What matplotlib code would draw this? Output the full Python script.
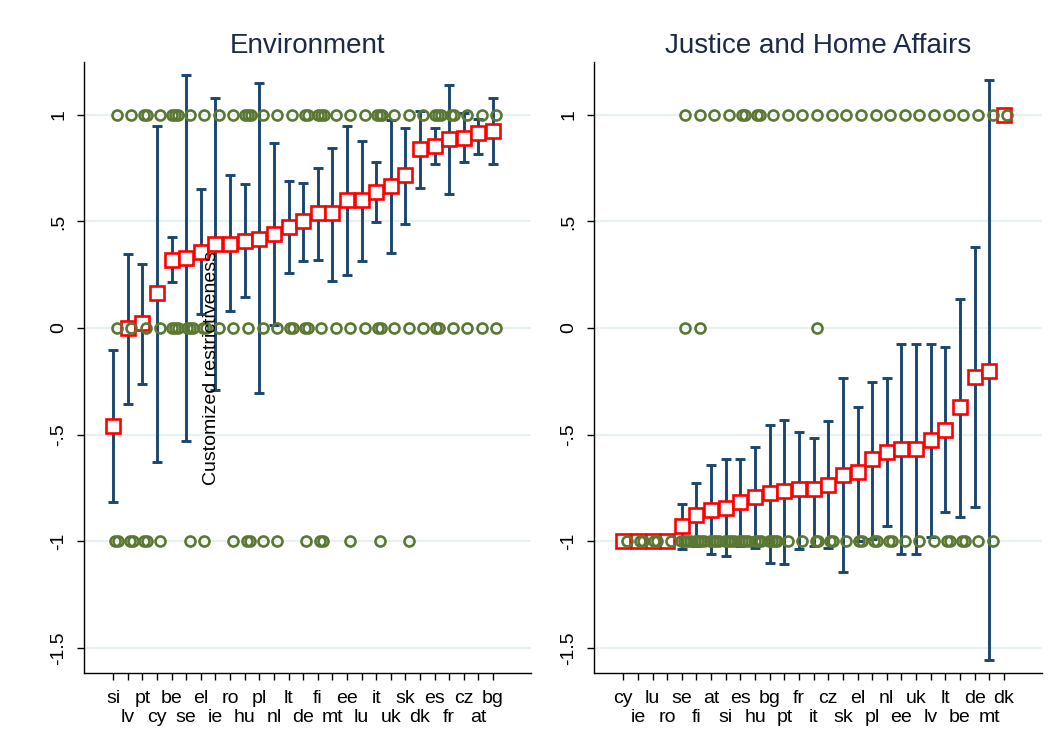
import numpy as np
import matplotlib
matplotlib.use("Agg")
import matplotlib.pyplot as plt

plt.rcParams['font.family'] = ['Liberation Sans', 'DejaVu Sans']

# ---------------- data ----------------
countries_env = ['si', 'lv', 'pt', 'cy', 'be', 'se', 'el', 'ie', 'ro', 'hu', 'pl', 'nl', 'lt', 'de',
                 'fi', 'mt', 'ee', 'lu', 'it', 'uk', 'sk', 'dk', 'es', 'fr', 'cz', 'at', 'bg']
mean_env = [-0.46, 0.00, 0.023, 0.165, 0.32, 0.33, 0.355, 0.393, 0.395, 0.41, 0.42, 0.44, 0.473, 0.50,
            0.54, 0.54, 0.60, 0.60, 0.637, 0.665, 0.716, 0.838, 0.852, 0.885, 0.89, 0.913, 0.923]
lo_env = [-0.815, -0.356, -0.263, -0.63, 0.215, -0.53, 0.065, -0.29, 0.08, 0.147, -0.305, 0.015, 0.26, 0.314,
          0.318, 0.22, 0.248, 0.314, 0.496, 0.351, 0.49, 0.656, 0.768, 0.627, 0.777, 0.815, 0.768]
hi_env = [-0.103, 0.347, 0.30, 0.95, 0.427, 1.185, 0.65, 1.077, 0.716, 0.675, 1.15, 0.867, 0.69, 0.68,
          0.75, 0.843, 0.946, 0.876, 0.777, 0.974, 0.94, 1.016, 0.937, 1.138, 1.007, 0.98, 1.077]
# number of individual observations at -1 / 0 / 1
env_obs_neg = [2, 2, 2, 1, 0, 1, 1, 0, 1, 2, 1, 1, 0, 1, 2, 0, 1, 0, 1, 0, 1, 0, 0, 0, 0, 0, 0]
env_obs_zero = [1, 1, 1, 1, 3, 3, 2, 1, 1, 1, 1, 1, 2, 2, 1, 1, 1, 1, 2, 1, 1, 1, 2, 1, 1, 1, 1]
env_obs_pos = [1, 1, 2, 1, 3, 1, 1, 1, 1, 3, 1, 1, 1, 2, 3, 1, 1, 1, 3, 1, 1, 1, 3, 2, 1, 1, 1]

countries_jha = ['cy', 'ie', 'lu', 'ro', 'se', 'fi', 'at', 'si', 'es', 'hu', 'bg', 'pt', 'fr', 'it',
                 'cz', 'sk', 'el', 'pl', 'nl', 'ee', 'uk', 'lv', 'lt', 'be', 'de', 'mt', 'dk']
mean_jha = [-1.0, -1.0, -1.0, -1.0, -0.93, -0.876, -0.853, -0.842, -0.818, -0.793, -0.775, -0.764, -0.756, -0.756,
            -0.736, -0.69, -0.677, -0.616, -0.581, -0.566, -0.566, -0.526, -0.477, -0.372, -0.228, -0.2, 1.0]
lo_jha = [-1.0, -1.0, -1.0, -1.0, -1.036, -1.02, -1.062, -1.07, -1.023, -1.03, -1.10, -1.106, -1.036, -1.02,
          -1.034, -1.145, -1.0, -0.99, -0.93, -1.06, -1.06, -0.979, -0.862, -0.884, -0.84, -1.555, 1.0]
hi_jha = [-1.0, -1.0, -1.0, -1.0, -0.826, -0.728, -0.643, -0.615, -0.615, -0.557, -0.457, -0.429, -0.488, -0.516,
          -0.437, -0.233, -0.368, -0.252, -0.233, -0.076, -0.076, -0.076, -0.09, 0.136, 0.382, 1.163, 1.0]
jha_obs_neg = [1, 2, 2, 1, 4, 4, 4, 4, 4, 3, 4, 1, 1, 2, 2, 1, 2, 2, 2, 1, 1, 1, 2, 2, 1, 1, 0]
jha_obs_zero = [0, 0, 0, 0, 1, 1, 0, 0, 0, 0, 0, 0, 0, 1, 0, 0, 0, 0, 0, 0, 0, 0, 0, 0, 0, 0, 0]
jha_obs_pos = [0, 0, 0, 0, 1, 1, 1, 1, 2, 2, 1, 1, 1, 1, 1, 1, 1, 1, 1, 1, 1, 1, 1, 1, 1, 1, 1]

obs_levels = [-1, 0, 1]
ytick_vals = [-1.5, -1, -0.5, 0, 0.5, 1]
ytick_labels = ['-1.5', '-1', '-.5', '0', '.5', '1']
titles = ['Environment', 'Justice and Home Affairs']
ylabel = 'Customized restrictiveness'

# ---------------- style ----------------
NAVY = '#1a476f'
RED = '#ff0000'
GREEN = '#5a7833'
GRID = '#e8f0f2'
TITLE_C = '#1c2a4a'

W, H = 1048, 744
fig = plt.figure(figsize=(W / 100, H / 100), dpi=100)
ax_top, ax_bot = 62, 673
ax1 = fig.add_axes([84 / W, (H - ax_bot) / H, (531 - 84) / W, (ax_bot - ax_top) / H])
ax2 = fig.add_axes([594 / W, (H - ax_bot) / H, (1042 - 594) / W, (ax_bot - ax_top) / H])


def draw(ax, countries, mean, lo, hi, obs, title):
    n = len(countries)
    x = np.arange(n)
    mean = np.array(mean)
    lo = np.array(lo)
    hi = np.array(hi)
    ax.errorbar(x, mean, yerr=[mean - lo, hi - mean], fmt='none', ecolor=NAVY,
                elinewidth=2.1, capsize=3.6, capthick=2.1, zorder=2)
    ax.plot(x, mean, ls='none', marker='s', ms=10.5, mfc='white', mec=RED, mew=1.9, zorder=3)
    # individual observations, hollow circles, spread slightly when several
    cx, cy = [], []
    for level, counts in zip(obs_levels, obs):
        for i, c in enumerate(counts):
            for k in range(c):
                cx.append(i + 0.23 + (k - (c - 1) / 2) * 0.2)
                cy.append(level)
    ax.plot(cx, cy, ls='none', marker='o', ms=7.2, mfc='none', mec=GREEN, mew=1.9, zorder=4)

    ax.set_xlim(-2.0, 28.6)
    ax.set_ylim(-1.618, 1.248)
    ax.set_yticks(ytick_vals)
    ax.set_yticklabels(ytick_labels, rotation=90, va='center', fontsize=14)
    ax.set_xticks(x)
    ax.set_xticklabels(countries, fontsize=14)
    ax.tick_params(axis='both', length=5, width=1, color='black')
    ax.tick_params(axis='y', pad=7)
    for i, t in enumerate(ax.xaxis.get_major_ticks()):
        t.set_pad(7.3 if i % 2 == 0 else 20.8)
    ax.yaxis.grid(True, color=GRID, lw=1.6)
    ax.set_axisbelow(True)
    for s in ['top', 'right']:
        ax.spines[s].set_visible(False)
    for s in ['left', 'bottom']:
        ax.spines[s].set_linewidth(1.0)
        ax.spines[s].set_color('black')
    ax.set_title(title, fontsize=20, color=TITLE_C, pad=6.5)


draw(ax1, countries_env, mean_env, lo_env, hi_env, [env_obs_neg, env_obs_zero, env_obs_pos], titles[0])
draw(ax2, countries_jha, mean_jha, lo_jha, hi_jha, [jha_obs_neg, jha_obs_zero, jha_obs_pos], titles[1])

fig.text(211.5 / W, 1 - 368 / H, ylabel, rotation=90, ha='center', va='center', fontsize=14, color='black')

fig.savefig('out.png', dpi=100, facecolor='white')
